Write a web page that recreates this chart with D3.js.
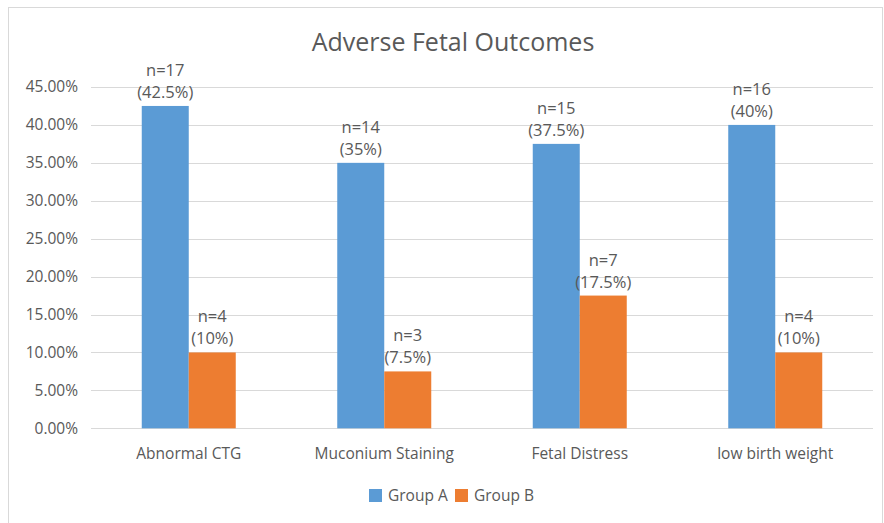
<!DOCTYPE html>
<html>
<head>
<meta charset="utf-8">
<script src="https://cdn.jsdelivr.net/npm/d3@7"></script>
<style>
  body { margin: 0; background: #fff; }
  text { font-family: "Open Sans", sans-serif; fill: #595959; }
</style>
</head>
<body>
<div id="chart"></div>
<script>
var categories = ["Abnormal CTG", "Muconium Staining", "Fetal Distress", "low birth weight"];
var seriesNames = ["Group A", "Group B"];
var groupA = [42.5, 35, 37.5, 40];
var groupB = [10, 7.5, 17.5, 10];
var countA = [17, 14, 15, 16];
var countB = [4, 3, 7, 4];
var yTicks = [0, 5, 10, 15, 20, 25, 30, 35, 40, 45];
var colors = ["#5b9bd5", "#ed7d31"];

var width = 884, height = 523;
var plotLeft = 91, plotRight = 873, plotTop = 87, plotBottom = 428.3;

var svg = d3.select("#chart").append("svg")
    .attr("width", width)
    .attr("height", height);

// chart border
svg.append("rect")
    .attr("x", 8.5).attr("y", 7.5)
    .attr("width", 874).attr("height", 520)
    .attr("fill", "none")
    .attr("stroke", "#d9d9d9");

var x = d3.scaleBand().domain(categories).range([plotLeft, plotRight]).padding(0);
var y = d3.scaleLinear().domain([0, 45]).range([plotBottom, plotTop]);
var barW = 47;

// gridlines
svg.append("g").selectAll("line")
    .data(yTicks)
    .enter().append("line")
    .attr("x1", plotLeft).attr("x2", plotRight)
    .attr("y1", function(d){ return Math.round(y(d)) + 0.5; })
    .attr("y2", function(d){ return Math.round(y(d)) + 0.5; })
    .attr("stroke", "#d9d9d9")
    .attr("stroke-width", 1);

// y tick labels
svg.append("g").selectAll("text")
    .data(yTicks)
    .enter().append("text")
    .attr("x", 78)
    .attr("y", function(d){ return y(d); })
    .attr("dy", "0.35em")
    .attr("text-anchor", "end")
    .style("font-size", "15.5px")
    .text(function(d){ return d.toFixed(2) + "%"; });

var series = [
  { name: seriesNames[0], values: groupA, counts: countA },
  { name: seriesNames[1], values: groupB, counts: countB }
];

series.forEach(function(s, si) {
    var g = svg.append("g");
    var bx = function(d, i){ return x(categories[i]) + x.bandwidth() / 2 - barW + si * barW; };
    g.selectAll("rect")
        .data(s.values)
        .enter().append("rect")
        .attr("x", bx)
        .attr("y", function(d){ return y(d); })
        .attr("width", barW)
        .attr("height", function(d){ return plotBottom - y(d); })
        .attr("fill", colors[si]);

    var lbl = g.selectAll("text.lbl")
        .data(s.values)
        .enter().append("text")
        .attr("class", "lbl")
        .attr("text-anchor", "middle")
        .style("font-size", "16.5px");
    lbl.append("tspan")
        .attr("x", function(d, i){ return bx(d, i) + barW / 2; })
        .attr("y", function(d){ return y(d) - 30; })
        .text(function(d, i){ return "n=" + s.counts[i]; });
    lbl.append("tspan")
        .attr("x", function(d, i){ return bx(d, i) + barW / 2; })
        .attr("y", function(d){ return y(d) - 8; })
        .text(function(d){ return "(" + d + "%)"; });
});

// x labels
svg.append("g").selectAll("text")
    .data(categories)
    .enter().append("text")
    .attr("x", function(d){ return x(d) + x.bandwidth() / 2; })
    .attr("y", 459)
    .attr("text-anchor", "middle")
    .style("font-size", "15.5px")
    .text(function(d){ return d; });

// title
svg.append("text")
    .attr("x", 453)
    .attr("y", 51)
    .attr("text-anchor", "middle")
    .style("font-size", "25px")
    .text("Adverse Fetal Outcomes");

// legend
var legend = svg.append("g");
var lx = [369, 455];
seriesNames.forEach(function(n, i) {
    legend.append("rect")
        .attr("x", lx[i]).attr("y", 489)
        .attr("width", 13).attr("height", 13)
        .attr("fill", colors[i]);
    legend.append("text")
        .attr("x", lx[i] + 19).attr("y", 501)
        .style("font-size", "15.5px")
        .text(n);
});
</script>
</body>
</html>
